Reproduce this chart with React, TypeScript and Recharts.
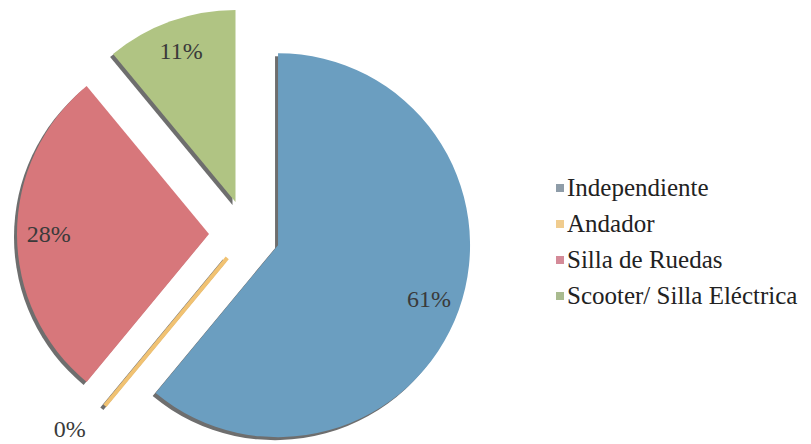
import { PieChart, Pie, Cell, Legend } from 'recharts';

const categories = ['Independiente', 'Andador', 'Silla de Ruedas', 'Scooter/ Silla Eléctrica'];
const values = [61, 0, 28, 11];
const colors = ['#6b9ec0', '#f1c272', '#d7777b', '#b0c483'];
const legendColors = ['#8e9ca8', '#f0cc8e', '#d48a98', '#a9bb8f'];
// how far each slice is pulled out of the pie
const explode = [33, 31, 38, 34];

const data = categories.map((name, i) => ({ name, value: values[i] }));
const total = values.reduce((a, b) => a + b, 0);

const CX = 247;
const CY = 234;
const R = 192;
const SHADOW = { dx: -3, dy: 3, color: '#6e6e6e' };
const RADIAN = Math.PI / 180;
const FONT = 'Liberation Serif';

// mid angle of slice i, recharts degrees (90 = top, clockwise)
function sliceMid(i: number) {
    const before = values.slice(0, i).reduce((a, b) => a + b, 0);
    return 90 - ((before + values[i] / 2) / total) * 360;
}

function sliceCenter(i: number) {
    const a = sliceMid(i) * RADIAN;
    return { x: CX + explode[i] * Math.cos(a), y: CY - explode[i] * Math.sin(a) };
}

const makeLabel = (target: number, shadow: boolean) => (props: any) => {
    if (props.index !== target) return null;
    const { cx, cy, midAngle, outerRadius, percent } = props;
    const a = midAngle * RADIAN;
    const zero = percent === 0;
    const line = zero ? (
        <line
            x1={cx}
            y1={cy}
            x2={cx + outerRadius * Math.cos(a)}
            y2={cy - outerRadius * Math.sin(a)}
            stroke={shadow ? SHADOW.color : colors[target]}
            strokeWidth={4}
        />
    ) : null;
    if (shadow) return line;
    const r = zero ? outerRadius + 30 : outerRadius * 0.835;
    const x = cx + r * Math.cos(a);
    return (
        <g>
            {line}
            <text
                x={x}
                y={cy - r * Math.sin(a)}
                textAnchor={zero ? (x < cx ? 'end' : 'start') : 'middle'}
                dominantBaseline="central"
                fill="#3a3a3a"
                fontFamily={FONT}
                fontSize={24}
            >
                {`${Math.round(percent * 100)}%`}
            </text>
        </g>
    );
};

function LegendBox() {
    return (
        <div style={{ fontFamily: FONT, fontSize: 25, color: '#222' }}>
            {categories.map((c, i) => (
                <div key={c} style={{ height: 36, lineHeight: '36px', whiteSpace: 'nowrap', display: 'flex', alignItems: 'center' }}>
                    <span
                        style={{
                            display: 'inline-block',
                            width: 8,
                            height: 8,
                            background: legendColors[i],
                            marginRight: 3,
                        }}
                    />
                    {c}
                </div>
            ))}
        </div>
    );
}

function slicePie(i: number, shadow: boolean) {
    const c = sliceCenter(i);
    return (
        <Pie
            key={(shadow ? 's' : 'p') + i}
            data={data}
            dataKey="value"
            nameKey="name"
            cx={c.x + (shadow ? SHADOW.dx : 0)}
            cy={c.y + (shadow ? SHADOW.dy : 0)}
            outerRadius={R}
            startAngle={90}
            endAngle={-270}
            stroke="none"
            isAnimationActive={false}
            label={makeLabel(i, shadow)}
            labelLine={false}
        >
            {data.map((d, j) => (
                <Cell key={d.name} fill={j === i ? (shadow ? SHADOW.color : colors[j]) : 'none'} />
            ))}
        </Pie>
    );
}

export default function App() {
    return (
        <div style={{ position: 'absolute', left: 0, top: 0, width: 811, height: 444, background: '#fff', fontFamily: FONT }}>
            <PieChart width={811} height={444} margin={{ top: 0, right: 0, bottom: 0, left: 0 }}>
                {values.map((_, i) => slicePie(i, true))}
                {values.map((_, i) => slicePie(i, false))}
                <Legend
                    layout="vertical"
                    align="right"
                    verticalAlign="middle"
                    wrapperStyle={{ left: 556, top: 170, right: 'auto', width: 255 }}
                    content={() => <LegendBox />}
                />
            </PieChart>
        </div>
    );
}
